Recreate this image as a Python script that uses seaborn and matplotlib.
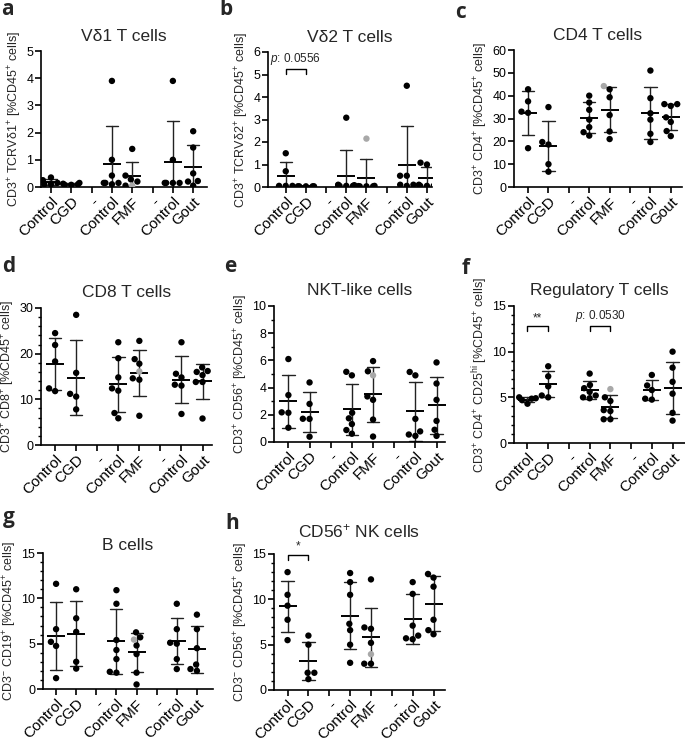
import matplotlib
matplotlib.use("Agg")
import matplotlib.pyplot as plt
from matplotlib.ticker import MultipleLocator
import pandas as pd
import seaborn as sns

# categories on every x-axis (the "-" slots stay empty)
GROUPS = ["Control_CGD", "CGD", "gap1", "Control_FMF", "FMF", "gap2", "Control_Gout", "Gout"]
TICK_LABELS = ["Control", "CGD", "-", "Control", "FMF", "-", "Control", "Gout"]
DATA_GROUPS = ["Control_CGD", "CGD", "Control_FMF", "FMF", "Control_Gout", "Gout"]

# values per data group, in DATA_GROUPS order
VD1 = [
    [0.35, 0.25, 0.15, 0.1, 0.1],
    [0.15, 0.12, 0.1, 0.08, 0.08],
    [3.9, 1.0, 0.42, 0.15, 0.15, 0.15, 0.1],
    [1.4, 0.42, 0.28, 0.2, 0.05],
    [3.9, 1.0, 0.15, 0.15, 0.15, 0.15],
    [2.05, 1.45, 0.5, 0.22, 0.2, 0.05],
]
VD2 = [
    [1.5, 0.7, 0.05, 0.05, 0.05],
    [0.03, 0.03, 0.03, 0.03, 0.03],
    [3.08, 0.1, 0.08, 0.08, 0.05, 0.05, 0.05],
    [0.05, 0.04, 0.03, 0.03, 0.03],
    [4.5, 0.5, 0.5, 0.1, 0.1, 0.05],
    [1.08, 1.0, 0.1, 0.05, 0.05, 0.05],
]
CD4 = [
    [42.8, 37.5, 33.0, 32.5, 17.0],
    [35.0, 18.6, 19.7, 10.0, 6.7],
    [40.0, 37.0, 33.8, 29.5, 26.2, 24.0, 22.5],
    [42.8, 39.3, 31.5, 24.3, 21.0],
    [51.0, 38.9, 32.3, 29.5, 23.3, 19.7],
    [36.3, 36.3, 35.5, 30.5, 28.5, 24.5, 22.3],
]
CD8 = [
    [24.5, 21.9, 18.3, 12.4, 11.8],
    [28.5, 15.8, 11.2, 10.6, 7.8],
    [22.5, 19.0, 14.8, 12.4, 11.9, 7.0, 5.85],
    [22.8, 18.8, 17.8, 14.6, 14.3, 6.4],
    [22.5, 15.6, 14.8, 13.2, 13.0, 6.8],
    [17.0, 16.2, 16.0, 15.3, 13.8, 13.8, 5.8],
]
NKT = [
    [6.1, 3.45, 2.18, 2.15, 1.05],
    [4.38, 2.8, 1.71, 1.7, 0.39],
    [5.16, 4.9, 2.15, 1.74, 1.32, 0.88, 0.61],
    [5.95, 5.2, 3.35, 3.1, 1.65, 0.4],
    [5.15, 4.9, 1.7, 0.78, 0.55, 0.45],
    [5.85, 4.3, 3.1, 1.55, 0.9, 0.45],
]
TREG = [
    [5.0, 4.9, 4.85, 4.7, 4.3],
    [8.4, 7.3, 6.2, 5.2, 5.0],
    [7.6, 6.35, 6.0, 5.6, 5.2, 5.0, 4.9],
    [5.0, 4.6, 3.6, 3.5, 2.6, 2.6],
    [7.45, 6.3, 5.8, 4.85, 4.75],
    [10.0, 8.25, 6.7, 5.4, 3.3, 2.45],
]
BCELL = [
    [11.6, 6.6, 5.2, 4.75, 1.2],
    [11.0, 7.8, 6.3, 3.0, 2.25],
    [10.9, 9.4, 5.4, 4.3, 3.3, 1.9, 1.8],
    [6.25, 5.7, 4.8, 3.85, 1.8, 0.5],
    [9.4, 6.6, 5.1, 5.0, 3.3, 2.2],
    [8.2, 6.6, 4.5, 2.7, 2.2, 2.0],
]
NK = [
    [13.0, 10.5, 9.3, 7.75, 5.5],
    [6.0, 5.0, 1.9, 1.9, 1.2],
    [12.9, 11.9, 10.5, 7.3, 6.6, 5.0, 3.0],
    [12.2, 6.9, 6.75, 5.2, 2.9, 2.9],
    [11.9, 10.6, 7.1, 6.0, 5.7, 5.6],
    [12.8, 12.4, 11.4, 7.75, 6.6, 6.15],
]
# the one FMF patient drawn in grey, per panel a..h
FMF_GREY = [0.05, 2.15, 44.2, 16.1, 4.9, 5.9, 5.45, 3.95]

TITLES = ["Vδ1 T cells", "Vδ2 T cells", "CD4 T cells", "CD8 T cells",
          "NKT-like cells", "Regulatory T cells", "B cells", "CD56$^{+}$ NK cells"]
YLABELS = [
    "CD3$^{+}$ TCRVδ1$^{+}$ [%CD45$^{+}$ cells]",
    "CD3$^{+}$ TCRVδ2$^{+}$ [%CD45$^{+}$ cells]",
    "CD3$^{+}$ CD4$^{+}$ [%CD45$^{+}$ cells]",
    "CD3$^{+}$ CD8$^{+}$ [%CD45$^{+}$ cells]",
    "CD3$^{+}$ CD56$^{+}$ [%CD45$^{+}$ cells]",
    "CD3$^{+}$ CD4$^{+}$ CD25$^{hi}$ [%CD45$^{+}$ cells]",
    "CD3$^{-}$ CD19$^{+}$ [%CD45$^{+}$ cells]",
    "CD3$^{-}$ CD56$^{+}$ [%CD45$^{+}$ cells]",
]
LETTERS = ["a", "b", "c", "d", "e", "f", "g", "h"]

# significance brackets: (panel, group1, group2, height, text)
BRACKETS = [
    ("b", "Control_CGD", "CGD", 5.25, r"$\it{p}$: 0.0556"),
    ("f", "Control_CGD", "CGD", 12.8, "**"),
    ("f", "Control_FMF", "FMF", 12.8, r"$\it{p}$: 0.0530"),
    ("h", "Control_CGD", "CGD", 14.9, "*"),
]

W, H = 685, 741

# layout: axes box in px (left, right, top, bottom), ylim top, major, minor, xlim, letter pos, title pad
LAYOUT = {
    "a": dict(box=(41, 207, 51, 187), ytop=5, major=1, minor=None, xlim=(-0.49, 7.68), letter=(1, 15), pad=7),
    "b": dict(box=(268, 432, 52, 187), ytop=6, major=1, minor=None, xlim=(-0.88, 7.25), letter=(219, 15), pad=7),
    "c": dict(box=(514, 682, 50, 187), ytop=60, major=10, minor=None, xlim=(-0.69, 7.55), letter=(455, 18), pad=7),
    "d": dict(box=(41, 212, 308, 445), ytop=30, major=10, minor=2, xlim=(-0.67, 7.45), letter=(2, 272), pad=8),
    "e": dict(box=(274, 445, 306, 442), ytop=10, major=2, minor=1, xlim=(-0.68, 7.4), letter=(224, 272), pad=8),
    "f": dict(box=(514, 685, 306, 443), ytop=15, major=5, minor=1, xlim=(-0.65, 7.6), letter=(462, 274), pad=8),
    "g": dict(box=(43, 213, 553, 689), ytop=15, major=5, minor=1, xlim=(-0.65, 7.8), letter=(3, 523), pad=1),
    "h": dict(box=(274, 445, 554, 690), ytop=15, major=5, minor=1, xlim=(-0.65, 7.55), letter=(225, 529), pad=12),
}


def build_frame(values, grey_value):
    rows = []
    for group, vals in zip(DATA_GROUPS, values):
        for v in vals:
            rows.append({"group": group, "value": v, "shade": "black"})
    rows.append({"group": "FMF", "value": grey_value, "shade": "grey"})
    return pd.DataFrame(rows)


def draw_panel(fig, letter, values, grey_value, title, ylabel):
    cfg = LAYOUT[letter]
    left, right, top, bottom = cfg["box"]
    ax = fig.add_axes([left / W, 1 - bottom / H, (right - left) / W, (bottom - top) / H])
    df = build_frame(values, grey_value)

    sns.pointplot(data=df, x="group", y="value", order=GROUPS, estimator="mean", errorbar="sd",
                  color="black", marker="_", markersize=13, markeredgewidth=1.4,
                  linestyle="none", capsize=0.6, err_kws={"linewidth": 1.0, "color": "#222222"}, ax=ax)
    sns.swarmplot(data=df, x="group", y="value", order=GROUPS, hue="shade",
                  hue_order=["black", "grey"], palette={"black": "black", "grey": "#a8a8a8"},
                  size=4.6, legend=False, warn_thresh=1, ax=ax, zorder=3)

    ax.set_xlim(*cfg["xlim"])
    ax.set_ylim(0, cfg["ytop"])
    ax.yaxis.set_major_locator(MultipleLocator(cfg["major"]))
    if cfg["minor"]:
        ax.yaxis.set_minor_locator(MultipleLocator(cfg["minor"]))
    ax.set_xticks(range(len(GROUPS)))
    ax.set_xticklabels(TICK_LABELS, rotation=45, ha="right", rotation_mode="anchor", fontsize=11)
    ax.tick_params(axis="y", labelsize=9, length=4, width=1.2, pad=1.5)
    ax.tick_params(axis="x", length=4, width=1.2, pad=1.5)
    ax.tick_params(axis="y", which="minor", length=2.5, width=1.0)
    ax.set_xlabel("")
    ax.set_ylabel(ylabel, fontsize=9, labelpad=2)
    ax.set_title(title, fontsize=12.5, pad=cfg["pad"])
    sns.despine(ax=ax)
    for side in ("left", "bottom"):
        ax.spines[side].set_linewidth(1.2)

    for panel, g1, g2, height, text in BRACKETS:
        if panel != letter:
            continue
        x1, x2 = GROUPS.index(g1), GROUPS.index(g2)
        leg = cfg["ytop"] * 0.035
        ax.plot([x1, x1, x2, x2], [height - leg, height, height, height - leg],
                color="black", lw=1.0, clip_on=False)
        ax.text((x1 + x2) / 2, height + cfg["ytop"] * 0.015, text, ha="center", va="bottom",
                fontsize=8.5, clip_on=False)

    lx, ly = cfg["letter"]
    fig.text(lx / W, 1 - ly / H, letter, fontsize=15, fontweight="bold",
             family=["Open Sans", "DejaVu Sans"], va="baseline", ha="left")
    return ax


def main():
    sns.set_style("ticks")
    plt.rcParams["font.family"] = ["Liberation Sans", "DejaVu Sans"]
    plt.rcParams["mathtext.fontset"] = "custom"
    plt.rcParams["mathtext.rm"] = "Liberation Sans"
    plt.rcParams["mathtext.it"] = "Liberation Sans:italic"
    plt.rcParams["mathtext.default"] = "regular"
    plt.rcParams["axes.edgecolor"] = "black"
    plt.rcParams["xtick.color"] = "black"
    plt.rcParams["ytick.color"] = "black"

    fig = plt.figure(figsize=(W / 100, H / 100), dpi=100)
    panels = [VD1, VD2, CD4, CD8, NKT, TREG, BCELL, NK]
    for i, values in enumerate(panels):
        draw_panel(fig, LETTERS[i], values, FMF_GREY[i], TITLES[i], YLABELS[i])

    fig.savefig("out.png", dpi=100)
    plt.close(fig)


if __name__ == "__main__":
    main()
